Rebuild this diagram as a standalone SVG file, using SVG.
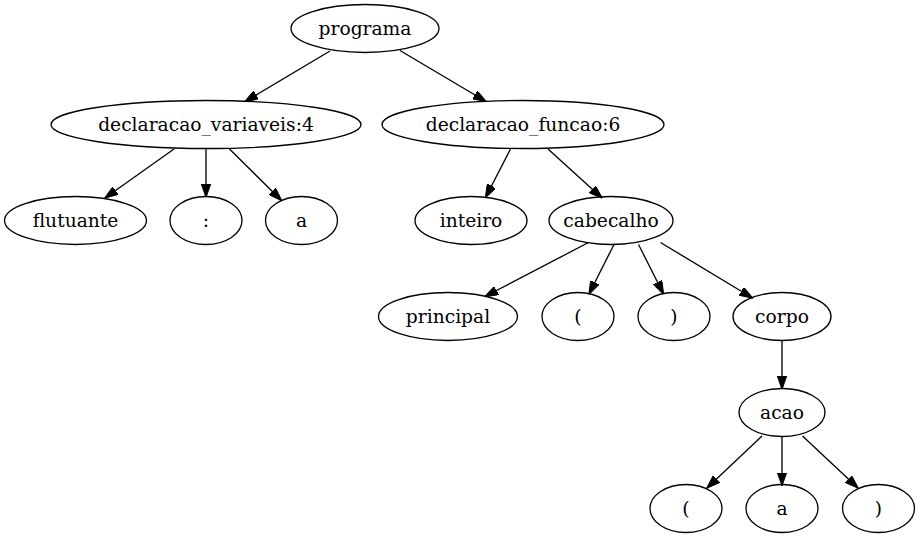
<svg xmlns="http://www.w3.org/2000/svg" width="920" height="539" viewBox="0 0 920 539">
<defs>
<style>
.n ellipse{fill:none;stroke:#000;stroke-width:1.33}
.n text{font-family:"DejaVu Serif","Liberation Serif",serif;font-size:18.67px;text-anchor:middle;fill:#000}
#edges line{stroke:#000;stroke-width:1.33;marker-end:url(#arr)}
</style>
<marker id="arr" markerUnits="userSpaceOnUse" viewBox="0 0 13.4 9.4" refX="13" refY="4.7" markerWidth="13.4" markerHeight="9.4" orient="auto">
<path d="M0,0 L13.4,4.7 L0,9.4 Z" fill="#000" stroke="#000" stroke-width="1"/>
</marker>
</defs>
<rect width="920" height="539" fill="#fff"/>
<g id="edges">
<line x1="330" y1="51" x2="245" y2="101.5"/>
<line x1="400" y1="50.5" x2="486" y2="101.5"/>
<line x1="174" y1="149" x2="105" y2="198"/>
<line x1="206" y1="149" x2="206" y2="197"/>
<line x1="229.5" y1="149" x2="281.5" y2="200.5"/>
<line x1="510.5" y1="149" x2="485.5" y2="197.5"/>
<line x1="548" y1="149" x2="602" y2="198"/>
<line x1="588.5" y1="242.5" x2="485" y2="296.5"/>
<line x1="614" y1="244.5" x2="589" y2="294"/>
<line x1="638.5" y1="244.5" x2="663.5" y2="294"/>
<line x1="660.5" y1="242.5" x2="752.5" y2="298"/>
<line x1="782" y1="340.5" x2="782" y2="389"/>
<line x1="762" y1="436" x2="707" y2="488"/>
<line x1="782" y1="436.5" x2="782" y2="485.5"/>
<line x1="802.5" y1="436" x2="858" y2="488"/>
</g>
<g id="programa" class="n"><ellipse cx="365" cy="28.5" rx="74" ry="24"/><text x="365" y="34.5">programa</text></g>
<g id="declaracao_variaveis" class="n"><ellipse cx="206" cy="124.5" rx="155" ry="24"/><text x="206" y="130.5">declaracao_variaveis:4</text></g>
<g id="declaracao_funcao" class="n"><ellipse cx="523" cy="124.5" rx="141" ry="24"/><text x="523" y="130.5">declaracao_funcao:6</text></g>
<g id="flutuante" class="n"><ellipse cx="75.5" cy="220.5" rx="71" ry="24"/><text x="75.5" y="226.5">flutuante</text></g>
<g id="colon" class="n"><ellipse cx="206" cy="220.5" rx="36" ry="24"/><text x="206" y="226.5">:</text></g>
<g id="a1" class="n"><ellipse cx="301.5" cy="220.5" rx="36" ry="24"/><text x="301.5" y="226.5">a</text></g>
<g id="inteiro" class="n"><ellipse cx="471" cy="220.5" rx="56" ry="24"/><text x="471" y="226.5">inteiro</text></g>
<g id="cabecalho" class="n"><ellipse cx="611" cy="220.5" rx="62" ry="24"/><text x="611" y="226.5">cabecalho</text></g>
<g id="principal" class="n"><ellipse cx="448" cy="316.5" rx="69.5" ry="24"/><text x="448" y="322.5">principal</text></g>
<g id="lparen1" class="n"><ellipse cx="578" cy="316.5" rx="36" ry="24"/><text x="578" y="322.5">(</text></g>
<g id="rparen1" class="n"><ellipse cx="674" cy="316.5" rx="36" ry="24"/><text x="674" y="322.5">)</text></g>
<g id="corpo" class="n"><ellipse cx="782" cy="316.5" rx="49" ry="24"/><text x="782" y="322.5">corpo</text></g>
<g id="acao" class="n"><ellipse cx="782" cy="412.5" rx="43" ry="24"/><text x="782" y="418.5">acao</text></g>
<g id="lparen2" class="n"><ellipse cx="686" cy="508.5" rx="36" ry="24"/><text x="686" y="514.5">(</text></g>
<g id="a2" class="n"><ellipse cx="782" cy="508.5" rx="36" ry="24"/><text x="782" y="514.5">a</text></g>
<g id="rparen2" class="n"><ellipse cx="878.5" cy="508.5" rx="36" ry="24"/><text x="878.5" y="514.5">)</text></g>
</svg>
